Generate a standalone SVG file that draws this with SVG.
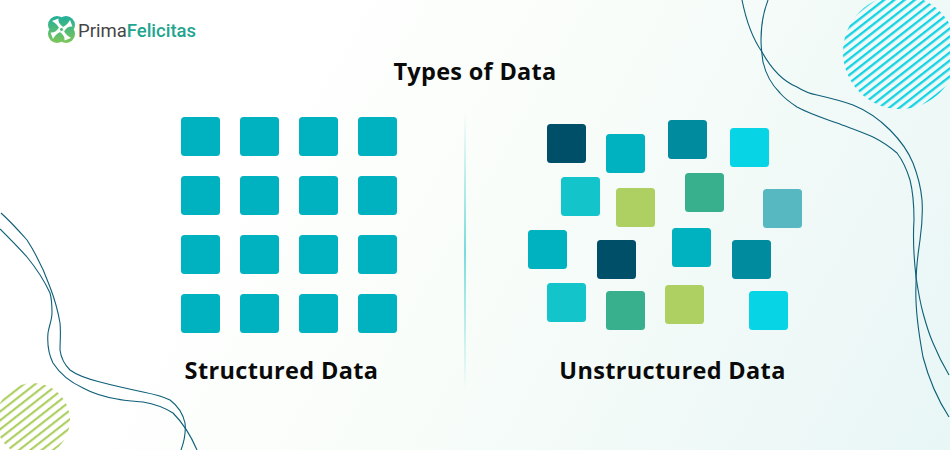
<svg xmlns="http://www.w3.org/2000/svg" width="950" height="450" viewBox="0 0 950 450">
<defs>
<linearGradient id="bg" gradientUnits="userSpaceOnUse" x1="250" y1="50" x2="950" y2="450"><stop offset="0" stop-color="#ffffff"/><stop offset="0.35" stop-color="#f9fdf9"/><stop offset="1" stop-color="#e8f6f6"/></linearGradient>
<linearGradient id="divider" x1="0" y1="0" x2="0" y2="1"><stop offset="0" stop-color="#78dcdc" stop-opacity="0"/><stop offset="0.5" stop-color="#78dcdc"/><stop offset="1" stop-color="#78dcdc" stop-opacity="0"/></linearGradient>
<linearGradient id="logoGrad" gradientUnits="userSpaceOnUse" x1="61" y1="16" x2="61" y2="43"><stop offset="0" stop-color="#1fae9b"/><stop offset="1" stop-color="#7fc658"/></linearGradient>
<pattern id="hatchBlue" width="6.300" height="6.300" patternUnits="userSpaceOnUse" patternTransform="rotate(-38 900 52)"><rect width="6.300" height="2.300" fill="#14d3e3"/></pattern>
<pattern id="hatchGreen" width="7" height="7" patternUnits="userSpaceOnUse" patternTransform="rotate(-38 33 420)"><rect width="7" height="2.200" fill="#aecf62"/></pattern>
<style>
.t{font-family:"Open Sans","Noto Sans",sans-serif;font-weight:700;fill:#0a0a0a}
.c{fill:none;stroke:#0e5f78;stroke-width:1.100}
.a{fill:#00b1bf}.b{fill:#004f69}.d{fill:#008b9f}.e{fill:#07d5e5}.f{fill:#14c4cb}.g{fill:#aecf62}.h{fill:#38b08e}.i{fill:#58b8c2}
</style>
<rect id="s" width="39" height="39" rx="3.5"/>
<path id="blade" d="M-2 -0.500C-3 -3 -5 -6 -9.500 -8.500L-3 -11C-3.500 -7.500 -1.500 -4.500 2 -2.500Z" fill="#fff"/>
</defs>
<rect width="950" height="450" fill="url(#bg)"/>
<circle cx="900" cy="52" r="57" fill="url(#hatchBlue)"/>
<circle cx="33" cy="420" r="37" fill="url(#hatchGreen)"/>
<g id="curves">
<path class="c" d="M742 0C747 25 755 42 762 52C772 70 785 82 797 87C805 92 811 94 817 95C830 98 842 101 853 105C868 111 880 120 890 130C900 140 908 151 913 163C918 176 921 188 922 200C923 215 922 226 920 240C918 255 916 265 916 285C915 305 918 330 923 357C929 380 938 400 949 417"/>
<path class="c" d="M768 0C763 13 761 28 761 40C761 48 762 55 763 62C766 75 772 85 780 93C785 99 791 103 797 107C810 114 823 118 837 123C850 128 862 132 873 137C883 142 890 147 897 153C903 161 907 170 910 180C913 192 914 205 914 220C913 235 913 250 916 277C918 290 920 302 923 313C926 324 929 334 933 343C938 355 943 365 949 375"/>
<path class="c" d="M1 213C10 221 19 231 27 240C36 254 44 270 50 287C55 300 58 311 60 323C61 333 60 341 60 350C61 358 65 365 70 370C78 376 88 379 100 382C115 386 129 389 143 392C153 394 162 396 170 400C178 406 183 414 185 423C186 432 184 442 181 450"/>
<path class="c" d="M0 229C9 238 18 247 27 257C36 268 44 280 50 293C52 300 52 306 52 313C52 320 49 326 48 333C47 345 49 355 53 363C60 374 70 382 83 388C94 394 105 397 117 399C126 401 135 401 143 402C155 404 165 408 173 413C183 423 191 436 197 450"/>
</g>
<g id="logo">
<g fill="url(#logoGrad)"><circle cx="57" cy="25" r="9"/><circle cx="66" cy="25" r="9"/><circle cx="57" cy="34" r="9"/><circle cx="66" cy="34" r="9"/></g>
<g transform="translate(61.500 29.500)"><use href="#blade"/><use href="#blade" transform="rotate(90)"/><use href="#blade" transform="rotate(180)"/><use href="#blade" transform="rotate(270)"/></g>
<text x="78" y="36.500" font-family="Roboto,sans-serif" font-size="18.500" fill="#454545">Prima<tspan fill="#1fa58f" font-weight="500">Felicitas</tspan></text>
</g>
<text id="title" class="t" x="475" y="80" font-size="23.500" letter-spacing="0.300" text-anchor="middle">Types of Data</text>
<rect id="divider-line" x="464" y="112" width="2" height="278" fill="url(#divider)"/>
<g id="structured">
<use href="#s" class="a" x="181" y="117"/><use href="#s" class="a" x="240" y="117"/><use href="#s" class="a" x="299" y="117"/><use href="#s" class="a" x="358" y="117"/>
<use href="#s" class="a" x="181" y="176"/><use href="#s" class="a" x="240" y="176"/><use href="#s" class="a" x="299" y="176"/><use href="#s" class="a" x="358" y="176"/>
<use href="#s" class="a" x="181" y="235"/><use href="#s" class="a" x="240" y="235"/><use href="#s" class="a" x="299" y="235"/><use href="#s" class="a" x="358" y="235"/>
<use href="#s" class="a" x="181" y="294"/><use href="#s" class="a" x="240" y="294"/><use href="#s" class="a" x="299" y="294"/><use href="#s" class="a" x="358" y="294"/>
<text class="t" x="281.500" y="379" font-size="23.500" letter-spacing="0.350" text-anchor="middle">Structured Data</text>
</g>
<g id="unstructured">
<use href="#s" class="b" x="547" y="124"/><use href="#s" class="a" x="606" y="134"/><use href="#s" class="d" x="668" y="120"/><use href="#s" class="e" x="730" y="128"/>
<use href="#s" class="f" x="561" y="177"/><use href="#s" class="g" x="616" y="188"/><use href="#s" class="h" x="685" y="173"/><use href="#s" class="i" x="763" y="189"/>
<use href="#s" class="a" x="528" y="230"/><use href="#s" class="b" x="597" y="240"/><use href="#s" class="a" x="672" y="228"/><use href="#s" class="d" x="732" y="240"/>
<use href="#s" class="f" x="547" y="283"/><use href="#s" class="h" x="606" y="291"/><use href="#s" class="g" x="665" y="285"/><use href="#s" class="e" x="749" y="291"/>
<text class="t" x="672.500" y="379" font-size="23.500" letter-spacing="0.350" text-anchor="middle">Unstructured Data</text>
</g>
</svg>
